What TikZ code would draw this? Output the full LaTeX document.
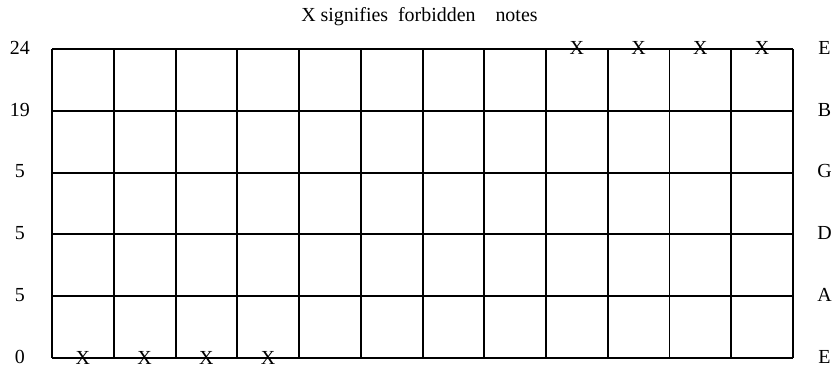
\documentclass[tikz,border=0pt]{standalone}
\usepackage{fontspec}
\setmainfont{Liberation Serif}
\usetikzlibrary{positioning}

\begin{document}
\begin{tikzpicture}[x=1.851cm,y=1.851cm,
   every node/.style={font=\fontsize{17}{20}\selectfont,inner sep=0pt},
   fret/.style={line width=1.7pt}]
  \useasboundingbox (-0.843,-0.227) rectangle (12.713,5.794);
  \draw[fret] (0,0) grid[step=1] (12,5);
  % fret numbers and open strings
  \foreach \y/\num/\str in {5/24/E,4/19/B,3/5/G,2/5/D,1/5/A,0/0/E}{
    \node (num\y) at (-0.52,\y+0.02) {\num};
    \node (str\y) at (12.51,\y+0.02) {\str};
  }
  % forbidden notes
  \foreach \x in {8,...,11}
    \node (top\x) at (\x+0.5,5.02) {X};
  \foreach \x in {0,...,3}
    \node (bot\x) at (\x+0.5,0) {X};
  \node (title) at (5.95,5.52) {X signifies\enspace forbidden\quad notes};
\end{tikzpicture}
\end{document}
